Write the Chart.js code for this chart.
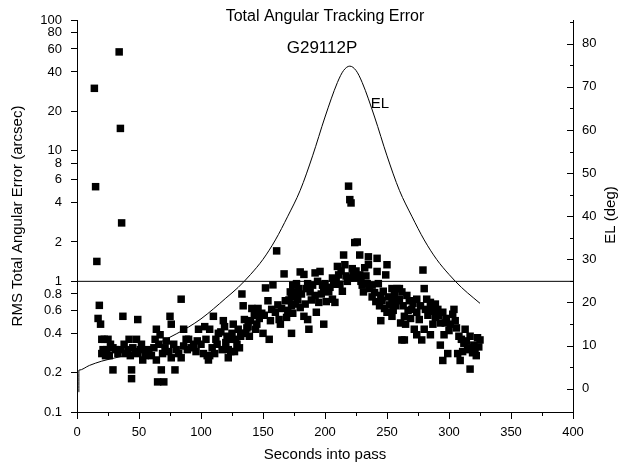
<!DOCTYPE html>
<html>
<head>
<meta charset="utf-8">
<title>Total Angular Tracking Error</title>
<script src="https://cdn.jsdelivr.net/npm/chart.js@4.4.1/dist/chart.umd.min.js"></script>
<style>
    html, body { margin: 0; padding: 0; background: #fff; }
    canvas { display: block; }
</style>
</head>
<body>
<canvas id="chartTrackingError" width="625" height="469"></canvas>
<script>
// Seconds into pass / RMS total angular error (arcsec)
const errorSeconds = [
    14, 15, 16, 17, 18, 19, 34, 35, 36,
    20, 22, 25, 27, 21, 24, 20, 23, 26, 29, 29,
    31, 33, 35, 37, 38, 39, 41, 42, 43, 44, 45, 44, 47, 48, 49, 49,
    51, 52, 53, 55, 57, 58, 60, 62, 63, 64, 64, 66, 67, 65, 68, 69,
    70, 71, 72, 74, 75, 76, 76, 78, 79, 80, 82, 84, 84, 86, 86, 88,
    90, 92, 89, 94, 96, 98, 97, 102, 103, 105, 107, 106, 107, 110,
    100, 104, 109, 111, 113, 116, 120, 123, 125, 128, 131, 136, 139,
    112, 114, 117, 118, 119, 121, 122, 122, 124, 126, 127, 129, 130,
    132, 133, 133, 134, 135, 137, 138, 141, 143, 144, 146, 149, 150,
    152, 154, 155, 157, 158, 161, 163, 164, 167, 168, 170, 172, 173, 174, 173,
    140, 145, 147, 151, 156, 160, 162, 165, 169, 171, 176, 178, 181, 185,
    189, 195, 197, 201, 204, 207, 209, 212, 213, 217, 218, 222, 225, 229, 233,
    219, 220, 221, 224, 226, 215, 228, 235, 242, 250,
    180, 183, 192, 196, 210, 216, 235, 232, 242, 249,
    206, 211, 223, 227, 174, 177, 186, 190, 194, 198, 200,
    175, 179, 188, 192, 199, 203, 206, 208, 214,
    220, 224, 228, 230, 234, 238, 243, 231, 238, 245, 247, 254, 258,
    246, 251, 254, 257, 259, 254, 261, 245,
    173, 176, 180, 184, 183, 186, 193, 199, 187, 262,
    236, 240, 241, 244, 248, 250, 252, 255, 256, 263, 267, 269, 271, 277,
    283, 286, 292, 295, 298, 300, 306, 308, 310, 314, 316, 321, 322,
    279, 280, 260, 262, 260, 266, 268, 274, 282, 285, 289,
    270, 274, 281, 288, 291, 304, 303, 264, 265, 276, 289, 293, 287,
    297, 301, 305, 272, 280, 274, 278, 285, 296, 264,
    313, 317, 323, 325, 312, 320, 315, 324,
    293, 299, 295, 307, 311, 309, 319, 317
];
const errorArcsec = [
    30, 5.3, 1.42, 0.52, 0.655, 0.47, 57, 14.8, 2.8,
    0.36, 0.36, 0.36, 0.33, 0.30, 0.30, 0.28, 0.27, 0.27, 0.31, 0.21,
    0.30, 0.28, 0.30, 0.54, 0.33, 0.28, 0.30, 0.36, 0.27, 0.21, 0.31, 0.18, 0.29, 0.36, 0.51, 0.28,
    0.30, 0.33, 0.25, 0.27, 0.30, 0.28, 0.27, 0.31, 0.36, 0.43, 0.25, 0.33, 0.39, 0.17, 0.21, 0.28,
    0.17, 0.31, 0.35, 0.29, 0.54, 0.47, 0.26, 0.33, 0.21, 0.30, 0.28, 0.73, 0.26, 0.43, 0.32, 0.36,
    0.36, 0.31, 0.30, 0.33, 0.29, 0.43, 0.35, 0.28, 0.45, 0.27, 0.27, 0.25, 0.43, 0.54,
    0.33, 0.36, 0.31, 0.28, 0.33, 0.41, 0.34, 0.36, 0.40, 0.36, 0.31, 0.40, 0.38,
    0.36, 0.40, 0.30, 0.50, 0.45, 0.38, 0.26, 0.30, 0.29, 0.47, 0.29, 0.33, 0.43,
    0.38, 0.40, 0.80, 0.65, 0.51, 0.44, 0.45, 0.62, 0.55, 0.43, 0.62, 0.57, 0.40,
    0.89, 0.71, 0.36, 0.61, 0.94, 1.71, 0.51, 0.47, 1.14, 0.71, 0.60, 0.83, 0.65, 0.57, 0.40,
    0.50, 0.47, 0.52, 0.55, 0.50, 0.58, 0.66, 0.62, 0.53, 0.72, 0.80, 0.72, 0.80, 0.88,
    0.72, 0.69, 0.80, 0.70, 0.90, 0.95, 1.0, 0.95, 1.2, 1.1, 1.0, 1.25, 1.2, 1.0, 1.1,
    5.35, 4.22, 3.98, 1.98, 2.0, 1.59, 1.59, 1.54, 1.50, 1.34,
    1.18, 1.13, 1.16, 1.19, 1.30, 1.34, 1.34, 1.27, 1.19, 1.12,
    1.06, 1.12, 1.16, 1.08, 0.935, 0.96, 0.96, 0.935, 1.0, 0.935, 0.96,
    0.83, 0.88, 0.83, 0.78, 0.85, 0.83, 0.73, 0.69, 0.84,
    1.06, 1.06, 1.12, 0.935, 0.96, 0.935, 0.96, 0.83, 0.76, 0.78, 0.84, 0.88, 0.88,
    0.71, 0.76, 0.69, 0.65, 0.71, 0.54, 0.48, 0.50,
    0.76, 0.67, 0.63, 0.67, 0.54, 0.51, 0.58, 0.47, 0.43, 0.356,
    0.88, 0.82, 0.70, 0.65, 0.62, 0.58, 0.66, 0.60, 0.78, 0.65, 0.60, 0.52, 0.68, 0.65,
    0.55, 0.62, 0.55, 0.58, 0.52, 0.42, 0.44, 0.38, 0.36, 0.35, 0.30, 0.30, 0.27,
    1.22, 0.88, 0.88, 0.83, 0.73, 0.78, 0.71, 0.73, 0.73, 0.69, 0.67,
    0.61, 0.58, 0.61, 0.59, 0.61, 0.61, 0.56, 0.54, 0.47, 0.51, 0.53, 0.48, 0.47,
    0.48, 0.47, 0.50, 0.43, 0.43, 0.39, 0.356, 0.39, 0.39, 0.356,
    0.43, 0.38, 0.37, 0.356, 0.335, 0.325, 0.31, 0.315,
    0.325, 0.28, 0.248, 0.28, 0.29, 0.248, 0.284, 0.213
];

// Elevation of the pass (deg)
const elSeconds = [
    1.5, 1.5, 10, 20, 30, 40, 50, 60, 70, 80, 90, 100, 110, 120, 130, 140,
    150, 160, 170, 180, 190, 200, 210, 215, 220, 225, 230, 240, 250, 260,
    270, 280, 290, 300, 310, 320, 325
];
const elDegrees = [
    -0.8, 4.3, 5.4, 6.4, 7.1, 7.8, 8.7, 9.8, 11.2, 12.7, 14.3, 16.2, 18.5, 21.0, 23.5, 26.5,
    30.0, 34.5, 40.0, 46.0, 54.0, 63.0, 71.0, 73.8, 74.8, 73.8, 71.0, 63.0, 54.0, 46.0,
    40.0, 34.5, 30.0, 26.5, 23.5, 21.0, 19.8
];

// 1 arcsec reference line
const limitSeconds = [0, 400];
const limitArcsec  = [1, 1];

const errorTicks  = [0.1, 0.2, 0.4, 0.6, 0.8, 1, 2, 4, 6, 8, 10, 20, 40, 60, 80, 100];
const elTicks     = [0, 10, 20, 30, 40, 50, 60, 70, 80];
const elMinorTicks = [5, 15, 25, 35, 45, 55, 65, 75, 85];
const secondTicks = [0, 50, 100, 150, 200, 250, 300, 350, 400];
const secondMinorTicks = [25, 75, 125, 175, 225, 275, 325, 375];

const FONT = '"Liberation Sans", Arial, sans-serif';

document.addEventListener('DOMContentLoaded', function () {
    if (typeof Chart === 'undefined') return;
    initTrackingErrorChart();
});

function toPoints(xs, ys) {
    return xs.map((x, i) => ({ x: x, y: ys[i] }));
}

/**
 * Titles, in-plot labels and the short tick marks Chart.js can't do
 * (inward ticks on the EL axis, minor ticks on the time axis).
 * The EL axis title is drawn here too so it reads bottom-to-top.
 */
const decorations = {
    id: 'decorations',
    afterDraw(chart) {
        const ctx  = chart.ctx;
        const area = chart.chartArea;
        const el   = chart.scales.el;
        const x    = chart.scales.x;

        ctx.save();
        ctx.strokeStyle = '#000';
        ctx.lineWidth = 1;
        ctx.beginPath();
        elTicks.forEach(v => {
            const py = Math.round(el.getPixelForValue(v)) + 0.5;
            ctx.moveTo(area.right - 6, py);
            ctx.lineTo(area.right, py);
        });
        elMinorTicks.forEach(v => {
            const py = Math.round(el.getPixelForValue(v)) + 0.5;
            ctx.moveTo(area.right - 3, py);
            ctx.lineTo(area.right, py);
        });
        secondMinorTicks.forEach(v => {
            const px = Math.round(x.getPixelForValue(v)) + 0.5;
            ctx.moveTo(px, area.bottom);
            ctx.lineTo(px, area.bottom + 4);
        });
        ctx.stroke();

        ctx.fillStyle = '#000';
        ctx.textAlign = 'center';
        ctx.textBaseline = 'middle';
        ctx.font = '16px ' + FONT;
        ctx.fillText('Total Angular Tracking Error', 325, 17);
        ctx.font = '17px ' + FONT;
        ctx.fillText('G29112P', 322, 48);
        ctx.font = '15px ' + FONT;
        ctx.fillText('EL', 380, 104);

        ctx.translate(611, 215);
        ctx.rotate(-Math.PI / 2);
        ctx.fillText('EL (deg)', 0, 0);
        ctx.restore();
    }
};

function initTrackingErrorChart() {
    const canvas = document.getElementById('chartTrackingError');
    if (!canvas) return;

    Chart.defaults.font.family = FONT;
    Chart.defaults.color = '#000';

    new Chart(canvas, {
        type: 'scatter',
        data: {
            datasets: [{
                label: 'RMS error',
                data: toPoints(errorSeconds, errorArcsec),
                yAxisID: 'y',
                pointStyle: 'rect',
                pointRadius: 5.3,
                backgroundColor: '#000',
                borderWidth: 0,
            }, {
                label: 'EL',
                data: toPoints(elSeconds, elDegrees),
                yAxisID: 'el',
                showLine: true,
                borderColor: '#000',
                borderWidth: 1,
                pointRadius: 0,
                cubicInterpolationMode: 'monotone',
            }, {
                label: '1 arcsec',
                data: toPoints(limitSeconds, limitArcsec),
                yAxisID: 'y',
                showLine: true,
                borderColor: '#000',
                borderWidth: 1,
                pointRadius: 0,
            }],
        },
        options: {
            responsive: false,
            animation: false,
            layout: { padding: { top: 20, left: 0, right: 0, bottom: 0 } },
            plugins: {
                legend: { display: false },
                tooltip: { enabled: false },
            },
            scales: {
                x: {
                    type: 'linear',
                    min: 0,
                    max: 400,
                    afterBuildTicks: s => { s.ticks = secondTicks.map(v => ({ value: v })); },
                    afterFit: s => { s.height = 57; },
                    grid: { drawOnChartArea: false, tickLength: 7, tickColor: '#000' },
                    border: { color: '#000', width: 1 },
                    ticks: { font: { size: 13 }, padding: 6, maxRotation: 0 },
                    title: {
                        display: true,
                        text: 'Seconds into pass',
                        font: { size: 15 },
                        padding: { top: 0, bottom: 5 },
                    },
                },
                y: {
                    type: 'logarithmic',
                    position: 'left',
                    min: 0.1,
                    max: 100,
                    afterBuildTicks: s => { s.ticks = errorTicks.map(v => ({ value: v })); },
                    afterFit: s => { s.width = 77; },
                    grid: { drawOnChartArea: false, tickLength: 6, tickColor: '#000' },
                    border: { color: '#000', width: 1 },
                    ticks: {
                        font: { size: 13 },
                        padding: 9,
                        autoSkip: false,
                        callback: v => String(v),
                    },
                    title: {
                        display: true,
                        text: 'RMS Total Angular Error (arcsec)',
                        font: { size: 15 },
                        padding: { top: 9, bottom: 0 },
                    },
                },
                el: {
                    type: 'linear',
                    position: 'right',
                    min: -5.4,
                    max: 85.5,
                    afterBuildTicks: s => { s.ticks = elTicks.map(v => ({ value: v })); },
                    afterFit: s => { s.width = 52; },
                    grid: { drawOnChartArea: false, drawTicks: false },
                    border: { color: '#000', width: 1 },
                    ticks: { font: { size: 13 }, padding: 9, autoSkip: false },
                    title: { display: false },
                },
            },
        },
        plugins: [decorations],
    });
}
</script>
</body>
</html>
